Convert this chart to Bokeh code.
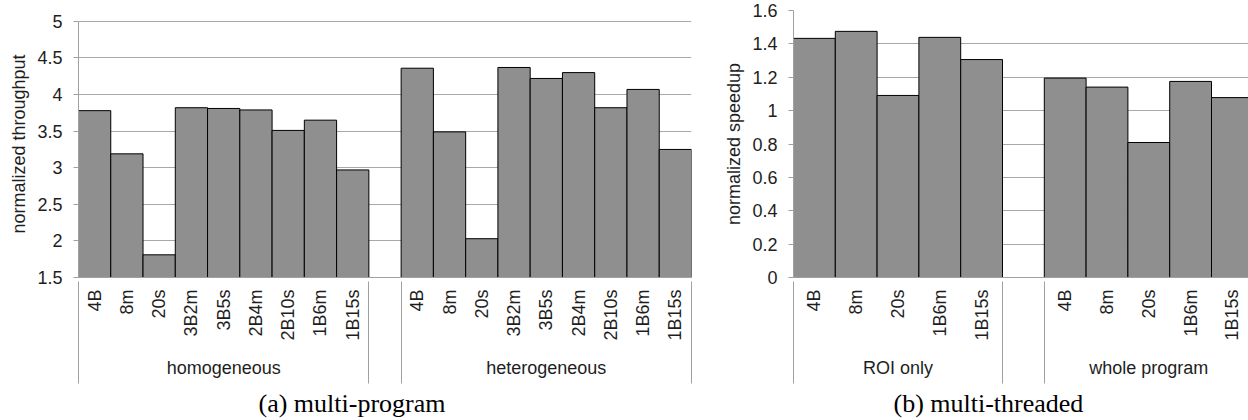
import math
from bokeh.plotting import figure
from bokeh.models import Range1d, LinearAxis, FixedTicker, Title, ColumnDataSource
from bokeh.layouts import row
from bokeh.embed import file_html
from bokeh.resources import INLINE

# ---------------- data ----------------
mp_groups = ["homogeneous", "heterogeneous"]
mp_configs = ["4B", "8m", "20s", "3B2m", "3B5s", "2B4m", "2B10s", "1B6m", "1B15s"]
mp_homogeneous = [3.78, 3.19, 1.81, 3.82, 3.81, 3.79, 3.51, 3.65, 2.97]
mp_heterogeneous = [4.36, 3.49, 2.03, 4.37, 4.22, 4.30, 3.82, 4.07, 3.25]
mp_yticks = [1.5, 2, 2.5, 3, 3.5, 4, 4.5, 5]
mp_ylabel = "normalized throughput"
mp_caption = "(a) multi-program"

mt_groups = ["ROI only", "whole program"]
mt_configs = ["4B", "8m", "20s", "1B6m", "1B15s"]
mt_roi = [1.433, 1.475, 1.091, 1.439, 1.306]
mt_whole = [1.195, 1.141, 0.809, 1.175, 1.078]
mt_yticks = [0, 0.2, 0.4, 0.6, 0.8, 1, 1.2, 1.4, 1.6]
mt_ylabel = "normalized speedup"
mt_caption = "(b) multi-threaded"

SANS = "Liberation Sans"
SERIF = "Liberation Serif"
BAR = "#8f8f8f"
GRID = "#a8a8a8"
AXIS = "#a0a0a0"
TXT = "#1e1e1e"
FS = "18px"

FIG_H = 420
FRAME_TOP = 10      # px from figure top
FRAME_BOT = 280     # px from figure top (x axis line)
BB = FIG_H - FRAME_BOT


def panel(configs, series, groups, yticks, ylabel, caption,
          width, bl, br, xend, top_gap, cap_offset, ylab_standoff):
    n = len(configs)
    xs, tops, labels = [], [], []
    for g, vals in enumerate(series):
        off = g * (n + 1)
        for i, v in enumerate(vals):
            xs.append(off + i + 0.5)
            tops.append(v)
            labels.append(configs[i])
    edges = []
    centers = []
    for g in range(len(series)):
        off = g * (n + 1)
        edges += [off, off + n]
        centers.append(off + n / 2)
    ystart, ytop = yticks[0], yticks[-1]
    frame_h = FRAME_BOT - FRAME_TOP
    px_per_y = (frame_h - top_gap) / (ytop - ystart)
    yend = ytop + top_gap / px_per_y

    p = figure(width=width, height=FIG_H, output_backend="svg",
               toolbar_location=None, x_axis_type=None,
               x_range=Range1d(0, xend), y_range=Range1d(ystart, yend),
               min_border_left=bl, min_border_right=br,
               min_border_top=FRAME_TOP, min_border_bottom=BB)
    p.outline_line_color = None
    p.background_fill_color = "white"
    p.xgrid.visible = False
    p.ygrid.grid_line_color = GRID
    p.ygrid.ticker = FixedTicker(ticks=yticks)

    src = ColumnDataSource(dict(x=xs, top=tops, label=labels))
    p.vbar(x="x", top="top", bottom=ystart, width=1.0, source=src,
           fill_color=BAR, line_color="black", line_width=1)

    ya = p.yaxis[0]
    ya.bounds = (ystart, ytop)
    ya.ticker = FixedTicker(ticks=yticks)
    ya.major_label_overrides = {t: f"{t:g}" for t in yticks}
    ya.axis_line_color = AXIS
    ya.major_tick_line_color = AXIS
    ya.major_tick_out = 5
    ya.major_tick_in = 0
    ya.minor_tick_line_color = None
    ya.major_label_standoff = 11
    ya.major_label_text_font = SANS
    ya.major_label_text_font_size = FS
    ya.major_label_text_color = TXT
    ya.axis_label = ylabel
    ya.axis_label_text_font = SANS
    ya.axis_label_text_font_size = FS
    ya.axis_label_text_font_style = "normal"
    ya.axis_label_text_color = TXT
    ya.axis_label_standoff = ylab_standoff

    # config labels (rotated)
    xa = LinearAxis(ticker=FixedTicker(ticks=xs))
    xa.major_label_overrides = {x: l for x, l in zip(xs, labels)}
    xa.major_label_orientation = math.pi / 2
    xa.major_label_standoff = 12
    xa.major_label_text_font = SANS
    xa.major_label_text_font_size = FS
    xa.major_label_text_color = TXT
    xa.axis_line_color = AXIS
    xa.major_tick_line_color = None
    xa.major_tick_out = 0
    xa.major_tick_in = 0
    xa.minor_tick_line_color = None
    xa.minor_tick_out = 0
    xa.minor_tick_in = 0
    p.add_layout(xa, "below")

    # group labels
    ga = LinearAxis(ticker=FixedTicker(ticks=centers))
    ga.major_label_overrides = {c: gname for c, gname in zip(centers, groups)}
    ga.major_label_standoff = 14
    ga.major_label_text_font = SANS
    ga.major_label_text_font_size = FS
    ga.major_label_text_color = TXT
    ga.axis_line_color = None
    ga.major_tick_line_color = None
    ga.minor_tick_line_color = None
    ga.major_tick_out = 0
    ga.major_tick_in = 0
    ga.minor_tick_out = 0
    ga.minor_tick_in = 0
    p.add_layout(ga, "below")

    # group separators (inward minor ticks reaching up to the main axis)
    sa = LinearAxis(ticker=FixedTicker(ticks=[], minor_ticks=edges))
    sa.axis_line_color = None
    sa.major_tick_line_color = None
    sa.major_label_text_font_size = "0px"
    sa.major_label_standoff = 0
    sa.major_tick_out = 0
    sa.major_tick_in = 0
    sa.minor_tick_line_color = AXIS
    sa.minor_tick_out = 3
    sa.minor_tick_in = 99
    p.add_layout(sa, "below")

    # caption below the panel
    cap = Title(text=caption, align="left", offset=cap_offset,
                text_font=SERIF, text_font_size="26px",
                text_font_style="normal", text_color="black", standoff=6)
    p.add_layout(cap, "below")
    return p


left = panel(mp_configs, [mp_homogeneous, mp_heterogeneous], mp_groups,
             mp_yticks, mp_ylabel, mp_caption,
             width=701, bl=78, br=10, xend=19, top_gap=11,
             cap_offset=180, ylab_standoff=5)

right = panel(mt_configs, [mt_roi, mt_whole], mt_groups,
              mt_yticks, mt_ylabel, mt_caption,
              width=547, bl=92, br=0, xend=10.885, top_gap=0,
              cap_offset=100, ylab_standoff=5)

layout = row(left, right)
open("out.html", "w").write(file_html(layout, INLINE))
